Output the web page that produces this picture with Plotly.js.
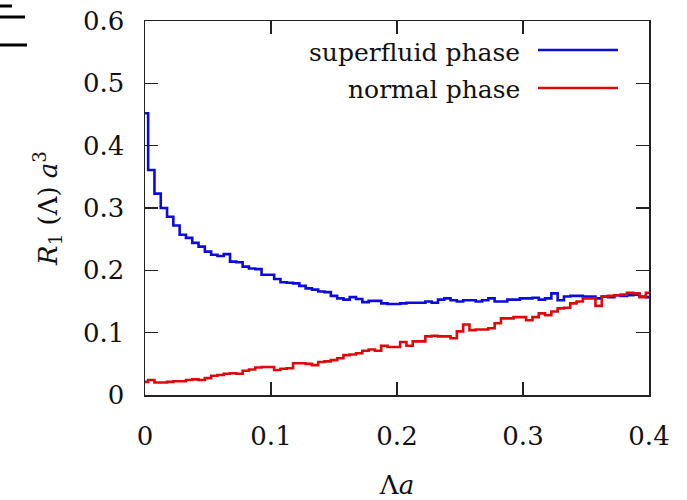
<!DOCTYPE html>
<html>
<head>
<meta charset="utf-8">
<script src="https://cdn.plot.ly/plotly-3.0.1.min.js"></script>
<style>html,body{margin:0;padding:0;background:#fff;}#chart{width:687px;height:500px;}</style>
</head>
<body>
<div id="chart"></div>
<script>
// Bin centres (Λa)
const lambdaA = [
  0.000,0.005,0.010,0.015,0.020,0.025,0.030,0.035,0.040,0.045,
  0.050,0.055,0.060,0.065,0.070,0.075,0.080,0.085,0.090,0.095,
  0.100,0.105,0.110,0.115,0.120,0.125,0.130,0.135,0.140,0.145,
  0.150,0.155,0.160,0.165,0.170,0.175,0.180,0.185,0.190,0.195,
  0.200,0.205,0.210,0.215,0.220,0.225,0.230,0.235,0.240,0.245,
  0.250,0.255,0.260,0.265,0.270,0.275,0.280,0.285,0.290,0.295,
  0.300,0.305,0.310,0.315,0.320,0.325,0.330,0.335,0.340,0.345,
  0.350,0.355,0.360,0.365,0.370,0.375,0.380,0.385,0.390,0.395,
  0.400
];
// R1(Λ) a^3, superfluid phase
const superfluid = [
  0.452,0.361,0.323,0.300,0.286,0.272,0.257,0.252,0.244,0.238,
  0.230,0.225,0.223,0.226,0.214,0.213,0.206,0.203,0.202,0.193,
  0.193,0.186,0.181,0.180,0.179,0.175,0.171,0.169,0.166,0.165,
  0.159,0.155,0.153,0.157,0.154,0.149,0.151,0.151,0.147,0.146,
  0.146,0.147,0.148,0.148,0.148,0.150,0.148,0.153,0.155,0.152,
  0.150,0.152,0.152,0.150,0.152,0.155,0.150,0.150,0.153,0.153,
  0.155,0.155,0.156,0.153,0.155,0.163,0.152,0.158,0.159,0.159,
  0.158,0.158,0.155,0.158,0.157,0.160,0.159,0.160,0.161,0.158,
  0.157
];
// R1(Λ) a^3, normal phase
const normal = [
  0.021,0.024,0.020,0.020,0.021,0.022,0.022,0.024,0.025,0.024,
  0.027,0.031,0.032,0.034,0.035,0.034,0.039,0.041,0.044,0.045,
  0.045,0.040,0.042,0.043,0.051,0.051,0.050,0.048,0.053,0.054,
  0.056,0.059,0.064,0.065,0.067,0.071,0.073,0.071,0.079,0.077,
  0.077,0.085,0.079,0.086,0.086,0.094,0.095,0.094,0.094,0.091,
  0.102,0.113,0.104,0.105,0.105,0.107,0.115,0.123,0.123,0.125,
  0.125,0.120,0.125,0.131,0.128,0.134,0.139,0.140,0.147,0.150,
  0.155,0.155,0.143,0.158,0.159,0.160,0.161,0.164,0.163,0.157,
  0.164
];
const seriesNames = ['superfluid phase', 'normal phase'];
const xTickVals = [0, 0.1, 0.2, 0.3, 0.4];
const xTickText = ['0', '0.1', '0.2', '0.3', '0.4'];
const yTickVals = [0, 0.1, 0.2, 0.3, 0.4, 0.5, 0.6];
const yTickText = ['0', '0.1', '0.2', '0.3', '0.4', '0.5', '0.6'];

const BLUE = '#0b0bdc';
const RED = '#dc0b0b';
const SERIF = 'DejaVu Serif';

const traces = [
  {x: lambdaA, y: superfluid, name: seriesNames[0], mode: 'lines',
   line: {color: BLUE, width: 2.6, shape: 'hvh'}, showlegend: false, cliponaxis: true},
  {x: lambdaA, y: normal, name: seriesNames[1], mode: 'lines',
   line: {color: RED, width: 2.6, shape: 'hvh'}, showlegend: false, cliponaxis: true}
];

const W = 504, L = 145;
const px = p => (p - L) / W; // pixel -> paper x
const H = 374, T = 21;
const py = p => 1 - (p - T) / H; // pixel -> paper y

const layout = {
  width: 687, height: 500,
  margin: {l: L, r: 687 - L - W, t: T, b: 500 - T - H},
  paper_bgcolor: '#fff', plot_bgcolor: '#fff',
  font: {family: SERIF, size: 25, color: '#111'},
  showlegend: false,
  xaxis: {
    range: [0, 0.4], tickvals: xTickVals, ticktext: xTickText,
    ticks: 'inside', ticklen: 13, tickwidth: 1.3, tickcolor: '#222',
    showline: true, linecolor: '#222', linewidth: 1.5, mirror: 'allticks',
    showgrid: false, zeroline: false, ticklabelstandoff: 17,
    tickfont: {family: SERIF, size: 26, color: '#111'},
    title: {text: 'Λ<i>a</i>', font: {family: SERIF, size: 26, color: '#111'}, standoff: 26},
    automargin: false
  },
  yaxis: {
    range: [0, 0.6], tickvals: yTickVals, ticktext: yTickText,
    ticks: 'inside', ticklen: 13, tickwidth: 1.3, tickcolor: '#222',
    showline: true, linecolor: '#222', linewidth: 1.5, mirror: 'allticks',
    showgrid: false, zeroline: false, ticklabelstandoff: 14,
    tickfont: {family: SERIF, size: 26, color: '#111'},
    title: {text: '<i>R</i><sub>1</sub> (Λ) <i>a</i><sup>3</sup>', font: {family: SERIF, size: 26, color: '#111'}, standoff: 18},
    automargin: false
  },
  annotations: [
    {xref: 'paper', yref: 'paper', x: px(522), y: py(52), xanchor: 'right', yanchor: 'middle',
     text: seriesNames[0], showarrow: false, font: {family: SERIF, size: 25, color: '#111'}},
    {xref: 'paper', yref: 'paper', x: px(522), y: py(90), xanchor: 'right', yanchor: 'middle',
     text: seriesNames[1], showarrow: false, font: {family: SERIF, size: 25, color: '#111'}}
  ],
  shapes: [
    {type: 'line', xref: 'paper', yref: 'paper', x0: px(538), x1: px(618), y0: py(50), y1: py(50),
     line: {color: BLUE, width: 2.6}},
    {type: 'line', xref: 'paper', yref: 'paper', x0: px(538), x1: px(618), y0: py(88), y1: py(88),
     line: {color: RED, width: 2.6}},
    // clipped glyph fragment in the top-left corner
    {type: 'line', xref: 'paper', yref: 'paper', x0: px(-2), x1: px(12), y0: py(6), y1: py(6),
     line: {color: '#000', width: 3}},
    {type: 'line', xref: 'paper', yref: 'paper', x0: px(-2), x1: px(25), y0: py(17), y1: py(17),
     line: {color: '#000', width: 3}},
    {type: 'line', xref: 'paper', yref: 'paper', x0: px(-2), x1: px(27), y0: py(45), y1: py(45),
     line: {color: '#000', width: 3}}
  ]
};

Plotly.newPlot('chart', traces, layout, {displayModeBar: false, staticPlot: true});
</script>
</body>
</html>
